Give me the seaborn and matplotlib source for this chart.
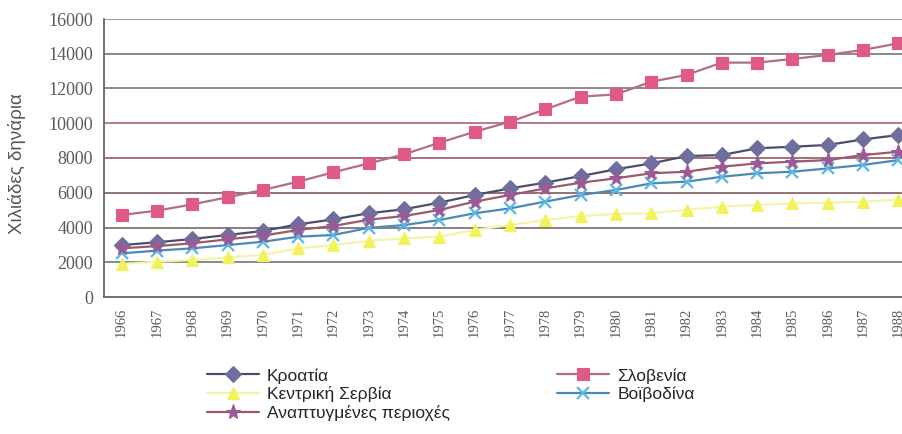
import numpy as np
import pandas as pd
import matplotlib
matplotlib.use("Agg")
import matplotlib.pyplot as plt
import seaborn as sns

years = list(range(1966, 1989))

croatia = [2990, 3150, 3340, 3570, 3800, 4180, 4470, 4820, 5050, 5430, 5870, 6250,
           6580, 6960, 7350, 7690, 8110, 8170, 8560, 8650, 8750, 9070, 9320]
slovenia = [4720, 4970, 5330, 5740, 6160, 6640, 7180, 7690, 8210, 8880, 9510, 10090,
            10800, 11530, 11660, 12390, 12780, 13490, 13490, 13700, 13930, 14220, 14600]
central_serbia = [1900, 2030, 2130, 2280, 2420, 2800, 2990, 3230, 3380, 3470, 3860, 4140,
                  4430, 4660, 4780, 4820, 5010, 5200, 5300, 5390, 5430, 5490, 5600]
vojvodina = [2510, 2670, 2800, 2990, 3180, 3470, 3570, 3980, 4140, 4430, 4820, 5100,
             5490, 5870, 6160, 6540, 6640, 6920, 7120, 7210, 7400, 7600, 7880]
developed = [2800, 2930, 3090, 3320, 3530, 3860, 4090, 4450, 4660, 5010, 5490, 5870,
             6250, 6580, 6830, 7120, 7210, 7500, 7690, 7790, 7880, 8170, 8360]

series_names = ["Κροατία", "Σλοβενία", "Κεντρική Σερβία", "Βοϊβοδίνα", "Αναπτυγμένες περιοχές"]
series_values = [croatia, slovenia, central_serbia, vojvodina, developed]

line_colors = ["#4a4e6e", "#b07080", "#f4f4a8", "#4a8ab8", "#9a5a6a"]
marker_colors = ["#6e6f9e", "#e05a86", "#f2f25a", "#5ab8e6", "#9a5a96"]
markers = ["D", "s", "^", "x", "*"]
marker_sizes = [8, 9, 8, 8, 11]

sns.set_style("white")
plt.rcParams["font.family"] = ["Liberation Sans", "DejaVu Sans"]

fig = plt.figure(figsize=(9.02, 4.34), dpi=100)
ax = fig.add_axes([104 / 902, 1 - 297 / 434, (916 - 104) / 902, (297 - 19) / 434])

x = np.arange(len(years))
for name, vals, lc, mc, mk, ms in zip(series_names, series_values, line_colors,
                                      marker_colors, markers, marker_sizes):
    df = pd.DataFrame({"x": x, "y": vals})
    sns.lineplot(data=df, x="x", y="y", ax=ax, color=lc, linewidth=1.6,
                 marker=mk, markersize=ms, markerfacecolor=mc,
                 markeredgecolor=mc, markeredgewidth=1.6 if mk == "x" else 0.8,
                 label=name, zorder=3)

# horizontal gridlines
grid_colors = {2000: "#6a6a6a", 4000: "#6a5a5a", 6000: "#7a4a50", 8000: "#8a4a52",
               10000: "#a05a66", 12000: "#6a6a6a", 14000: "#6a6a6a", 16000: "#7a7a7a"}
for v, c in grid_colors.items():
    ax.axhline(v, color=c, linewidth=1.1, zorder=1)

ax.set_xlim(-0.5, len(years) - 0.5)
ax.set_ylim(0, 16000)
ax.set_yticks(np.arange(0, 16001, 2000))
ax.set_yticklabels([str(v) for v in range(0, 16001, 2000)],
                   fontfamily="Liberation Serif", fontsize=13, color="#5a5a5a")
ax.set_xticks(x)
ax.set_xticklabels([str(y) for y in years], rotation=90,
                   fontfamily="Liberation Serif", fontsize=10.5, color="#5a5a5a")
ax.set_xticks(np.arange(-0.5, len(years), 1), minor=True)
ax.tick_params(axis="x", which="major", length=0, pad=8)
ax.tick_params(axis="x", which="minor", length=5, width=1, color="#666666", direction="out")
ax.tick_params(axis="y", length=5, width=1, color="#666666", direction="out", pad=3)

for side in ["top", "right"]:
    ax.spines[side].set_visible(False)
for side in ["left", "bottom"]:
    ax.spines[side].set_color("#666666")
    ax.spines[side].set_linewidth(1.3)

ax.set_xlabel("")
ax.set_ylabel("Χιλιάδες δηνάρια", fontsize=13.5, color="#555555")
ax.yaxis.set_label_coords((26 - 104) / 812, 0.48)

h, l = ax.get_legend_handles_labels()
order = [0, 2, 4, 1, 3]
ax.legend([h[i] for i in order], [l[i] for i in order], ncol=2, frameon=False,
          loc="upper left", bbox_to_anchor=(207 / 902, 1 - 368 / 434),
          bbox_transform=fig.transFigure, fontsize=12.5, handlelength=3.0,
          handletextpad=0.45, columnspacing=6.2, labelspacing=0.17,
          borderaxespad=0, borderpad=0)

fig.savefig("out.png", dpi=100)
